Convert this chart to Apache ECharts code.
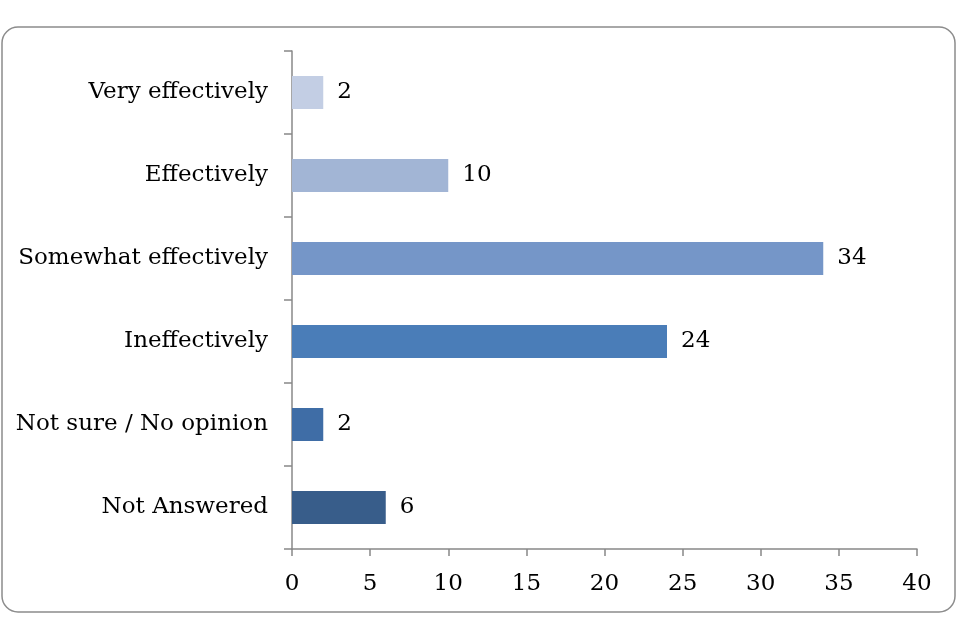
<!DOCTYPE html>
<html><head><meta charset="utf-8">
<script src="https://cdn.jsdelivr.net/npm/echarts@6/dist/echarts.min.js"></script>
<style>html,body{margin:0;padding:0;background:#fff}#c{width:960px;height:640px}</style>
</head><body><div id="c"></div>
<script>
const categories = ['Very effectively','Effectively','Somewhat effectively','Ineffectively','Not sure / No opinion','Not Answered'];
const values = [2,10,34,24,2,6];
const barColors = ['#C3CEE4','#A2B5D5','#7596C8','#4A7DB8','#3F6DA6','#385D8A'];
const xTicks = [0,5,10,15,20,25,30,35,40];

const chart = echarts.init(document.getElementById('c'));
const font = 'DejaVu Serif';
chart.setOption({
  animation:false,
  graphic:[{type:'rect',shape:{x:2,y:27,width:953,height:585,r:16},style:{fill:'none',stroke:'#8c8c8c',lineWidth:1.5},silent:true}],
  grid:{left:292,right:43,top:51,bottom:91},
  xAxis:{type:'value',min:xTicks[0],max:xTicks[xTicks.length-1],interval:5,
    axisLine:{show:true,lineStyle:{color:'#888',width:1.5}},
    axisTick:{show:true,length:7,lineStyle:{color:'#888',width:1.5}},
    splitLine:{show:false},
    axisLabel:{color:'#000',fontFamily:font,fontSize:23,margin:24}},
  yAxis:{type:'category',inverse:true,data:categories,
    axisLine:{show:true,lineStyle:{color:'#888',width:1.5}},
    axisTick:{show:true,length:8,lineStyle:{color:'#888',width:1.5}},
    axisLabel:{color:'#000',fontFamily:font,fontSize:23,margin:24,padding:[4,0,0,0]}},
  series:[{type:'bar',barWidth:'40%',
    data:values.map((v,i)=>({value:v,itemStyle:{color:barColors[i]}})),
    label:{show:true,position:'right',distance:14,color:'#000',fontFamily:font,fontSize:23,padding:[4,0,0,0]}}]
});
</script></body></html>
